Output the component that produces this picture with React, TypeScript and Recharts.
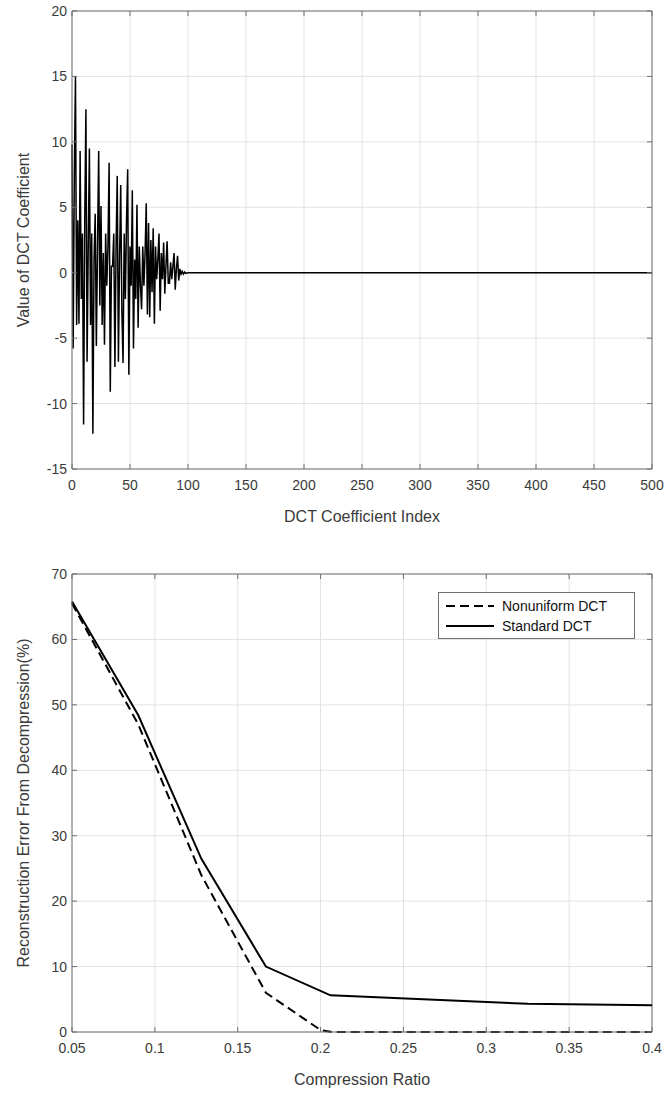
import React from 'react'
import {
  LineChart, Line, XAxis, YAxis, CartesianGrid, ReferenceLine
} from 'recharts'

// top panel: DCT coefficients (index, value)
const dctIndex = [
  0, 1, 2, 3, 4, 5, 6, 7, 8, 9, 10, 11, 12, 13, 14, 15, 16, 17, 18, 19,
  20, 21, 22, 23, 24, 25, 26, 27, 28, 29, 30, 31, 32, 33, 34, 35, 36, 37, 38, 39,
  40, 41, 42, 43, 44, 45, 46, 47, 48, 49, 50, 51, 52, 53, 54, 55, 56, 57, 58, 59,
  60, 61, 62, 63, 64, 65, 66, 67, 68, 69, 70, 71, 72, 73, 74, 75, 76, 77, 78, 79,
  80, 81, 82, 83, 84, 85, 86, 87, 88, 89, 90, 91, 92, 93, 94, 95, 96, 97, 98, 100, 500,
]
const dctValue = [
  9.8, -5.8, 7.5, 15.0, -4, 4, -3.9, 9.3, -2, 3, -11.6, 4, 12.5, -6.8, 2, 9.5, -4, 3, -12.3, 1,
  4.5, -5.6, 2, 9.3, -2.5, 5.1, -4, 1.5, -5.5, 3, -1, 2, 8.4, -9.1, 0.5, 0.5, 3, -7.2, 2, 7.4,
  -6.8, 1, 6.7, -3, -6.9, 3, -2, 4, 7.9, -7.8, 2, -1, 6.3, -5.8, 1, -2, 5.2, -4.2, 2, -1,
  -2.8, 2, -1, 1.5, 5.3, -3.2, 3.8, -3.4, 2.5, -1.5, 3.4, -3.9, 2, -0.5, 1, 3.0, -2.9, 1.5, -0.5, 2.3,
  -1.6, 0.5, 2.4, -0.8, -0.8, 0.8, -0.5, 0.5, 1.5, -1.3, 0.3, 1.3, -0.6, 0.3, -0.1, 0.1, -0.1, 0.05, -0.05, 0, 0,
]
const dctXTicks = [0, 50, 100, 150, 200, 250, 300, 350, 400, 450, 500]
const dctYTicks = [-15, -10, -5, 0, 5, 10, 15, 20]

// bottom panel: reconstruction error vs compression ratio
const ratioNonuniform = [0.05, 0.09, 0.128, 0.167, 0.2, 0.207, 0.325, 0.4]
const errorNonuniform = [65.5, 47, 24, 6, 0.3, 0, 0, 0]
const ratioStandard = [0.05, 0.09, 0.128, 0.167, 0.206, 0.325, 0.4]
const errorStandard = [65.8, 48.4, 26.5, 10, 5.6, 4.3, 4.1]
const ratioTicks = [0.05, 0.1, 0.15, 0.2, 0.25, 0.3, 0.35, 0.4]
const errorTicks = [0, 10, 20, 30, 40, 50, 60, 70]

const dctData = dctIndex.map((x, i) => ({ x, y: dctValue[i] }))
const nonuniformData = ratioNonuniform.map((x, i) => ({ x, y: errorNonuniform[i] }))
const standardData = ratioStandard.map((x, i) => ({ x, y: errorStandard[i] }))

const FONT = '"Liberation Sans", Arial, sans-serif'
const AXIS = '#707070'
const TEXT = '#3a3a3a'
const GRID = '#e2e2e2'
const TICK = 5

const W = 669
const LEFT = 72
const RIGHT = 652

function makeXTick(top: number, bottom: number) {
  return (props: any) => {
    const { x, payload } = props
    return (
      <g>
        <line x1={x} x2={x} y1={bottom} y2={bottom - TICK} stroke={AXIS} />
        <line x1={x} x2={x} y1={top} y2={top + TICK} stroke={AXIS} />
        <text x={x} y={bottom + 21} textAnchor="middle" fontSize={14} fill={TEXT} fontFamily={FONT}>
          {String(payload.value)}
        </text>
      </g>
    )
  }
}

function makeYTick() {
  return (props: any) => {
    const { y, payload } = props
    return (
      <g>
        <line x1={LEFT} x2={LEFT + TICK} y1={y} y2={y} stroke={AXIS} />
        <line x1={RIGHT} x2={RIGHT - TICK} y1={y} y2={y} stroke={AXIS} />
        <text x={LEFT - 5} y={y + 5} textAnchor="end" fontSize={14} fill={TEXT} fontFamily={FONT}>
          {String(payload.value)}
        </text>
      </g>
    )
  }
}

function AxisTitle({ x, y, text, rotate }: { x: number; y: number; text: string; rotate?: boolean }) {
  return (
    <div style={{
      position: 'absolute', left: x, top: y, transform: `translate(-50%, -50%)${rotate ? ' rotate(-90deg)' : ''}`,
      whiteSpace: 'nowrap', fontFamily: FONT, fontSize: 16, color: TEXT,
    }}>{text}</div>
  )
}

function LegendBox() {
  const row = (dash: string | undefined, label: string) => (
    <div style={{ display: 'flex', alignItems: 'center', height: 20 }}>
      <svg width={54} height={10} style={{ marginRight: 6 }}>
        <line x1={4} x2={52} y1={5} y2={5} stroke="#000" strokeWidth={2} strokeDasharray={dash} />
      </svg>
      <span>{label}</span>
    </div>
  )
  return (
    <div style={{
      position: 'absolute', left: 438, top: 592,
      width: 197, height: 47, boxSizing: 'border-box', border: `1px solid ${AXIS}`, background: '#fff',
      fontFamily: FONT, fontSize: 14, color: '#111', padding: '3px 0 0 3px',
    }}>
      {row('9 5', 'Nonuniform DCT')}
      {row(undefined, 'Standard DCT')}
    </div>
  )
}

export default function App() {
  const topTop = 11
  const topBottom = 469
  const botTop = 44
  const botBottom = 502
  return (
    <div style={{ position: 'absolute', left: 0, top: 0, width: W, height: 1093, background: '#fff' }}>
      <div style={{ position: 'absolute', left: 0, top: 0 }}>
        <LineChart width={W} height={530} data={dctData}
          margin={{ top: topTop, right: W - RIGHT, bottom: 530 - topBottom - 30, left: LEFT - 40 }}>
          <CartesianGrid stroke={GRID} />
          <XAxis dataKey="x" type="number" domain={[0, 500]} ticks={dctXTicks} height={30}
            axisLine={{ stroke: AXIS }} tickLine={false} tick={makeXTick(topTop, topBottom)} interval={0} />
          <YAxis type="number" domain={[-15, 20]} ticks={dctYTicks} width={40}
            axisLine={{ stroke: AXIS }} tickLine={false} tick={makeYTick()} interval={0} />
          <ReferenceLine y={20} stroke={AXIS} />
          <ReferenceLine x={500} stroke={AXIS} />
          <Line dataKey="y" type="linear" stroke="#000" strokeWidth={1.5} dot={false} isAnimationActive={false} />
        </LineChart>
      </div>
      <AxisTitle x={362} y={517} text="DCT Coefficient Index" />
      <AxisTitle x={24} y={240} text="Value of DCT Coefficient" rotate />

      <div style={{ position: 'absolute', left: 0, top: 530 }}>
        <LineChart width={W} height={563}
          margin={{ top: botTop, right: W - RIGHT, bottom: 563 - botBottom - 30, left: LEFT - 40 }}>
          <CartesianGrid stroke={GRID} />
          <XAxis dataKey="x" type="number" domain={[0.05, 0.4]} ticks={ratioTicks} height={30}
            axisLine={{ stroke: AXIS }} tickLine={false} tick={makeXTick(botTop, botBottom)} interval={0}
            allowDuplicatedCategory={false} />
          <YAxis type="number" domain={[0, 70]} ticks={errorTicks} width={40}
            axisLine={{ stroke: AXIS }} tickLine={false} tick={makeYTick()} interval={0} />
          <ReferenceLine y={70} stroke={AXIS} />
          <ReferenceLine x={0.4} stroke={AXIS} />
          <Line data={nonuniformData} dataKey="y" name="Nonuniform DCT" type="linear" stroke="#000"
            strokeWidth={2} strokeDasharray="9 5" dot={false} isAnimationActive={false} />
          <Line data={standardData} dataKey="y" name="Standard DCT" type="linear" stroke="#000"
            strokeWidth={2} dot={false} isAnimationActive={false} />
        </LineChart>
      </div>
      <LegendBox />
      <AxisTitle x={362} y={1080} text="Compression Ratio" />
      <AxisTitle x={24} y={803} text="Reconstruction Error From Decompression(%)" rotate />
    </div>
  )
}
